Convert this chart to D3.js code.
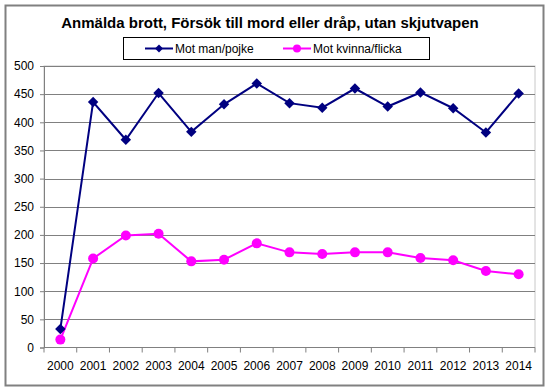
<!DOCTYPE html>
<html>
<head>
<meta charset="utf-8">
<script src="https://cdn.jsdelivr.net/npm/d3@7"></script>
<style>
  body { margin: 0; background: #fff; }
  text { font-family: "Liberation Sans", Arial, sans-serif; }
</style>
</head>
<body>
<div class="chart"></div>
<script>
var years = ["2000","2001","2002","2003","2004","2005","2006","2007","2008","2009","2010","2011","2012","2013","2014"];
var motMan = [33, 436, 369, 452, 383, 432, 469, 434, 426, 460, 428, 453, 425, 382, 451];
var motKvinna = [14, 158, 199, 202, 153, 156, 185, 169, 166, 169, 169, 159, 155, 136, 130];
var yTicks = [0, 50, 100, 150, 200, 250, 300, 350, 400, 450, 500];

var width = 550, height = 391;
var plot = {left: 44, right: 535, top: 66, bottom: 347.5};

var svg = d3.select(".chart")
  .append("svg")
  .attr("width", width)
  .attr("height", height);

// outer frame
svg.append("rect")
  .attr("x", 5.5).attr("y", 5.5)
  .attr("width", 538).attr("height", 380)
  .attr("fill", "#fff")
  .attr("stroke", "#808080")
  .attr("stroke-width", 2);

svg.append("text")
  .attr("x", 270).attr("y", 28)
  .attr("text-anchor", "middle")
  .style("font-size", "15px")
  .style("font-weight", "bold")
  .text("Anmälda brott, Försök till mord eller dråp, utan skjutvapen");

var x = d3.scaleBand().domain(years).range([plot.left, plot.right]);
var y = d3.scaleLinear().domain([0, 500]).range([plot.bottom, plot.top]);

// plot area border
svg.append("rect")
  .attr("x", plot.left).attr("y", plot.top)
  .attr("width", plot.right - plot.left)
  .attr("height", plot.bottom - plot.top)
  .attr("fill", "none")
  .attr("stroke", "#c8c8c8");

// gridlines
svg.append("g").selectAll("line")
  .data(yTicks.filter(function(d){ return d > 0; }))
  .enter().append("line")
  .attr("x1", plot.left).attr("x2", plot.right)
  .attr("y1", function(d){ return Math.round(y(d)) + 0.5; })
  .attr("y2", function(d){ return Math.round(y(d)) + 0.5; })
  .attr("stroke", "#808080");

// y axis
var yAxis = svg.append("g")
  .attr("transform", "translate(" + plot.left + ",0)")
  .call(d3.axisLeft(y).tickValues(yTicks).tickSize(4).tickPadding(6));
yAxis.select(".domain").attr("stroke", "#808080");
yAxis.selectAll(".tick line").attr("stroke", "#808080");
yAxis.selectAll("text").style("font-size", "12px").attr("fill", "#000");

// x axis with ticks between categories
var xAxisG = svg.append("g")
  .attr("transform", "translate(0," + plot.bottom + ")");
xAxisG.append("line")
  .attr("x1", plot.left).attr("x2", plot.right)
  .attr("stroke", "#808080");
xAxisG.selectAll(".xt")
  .data(years.concat(["end"]))
  .enter().append("line")
  .attr("x1", function(d, i){ return plot.left + i * x.bandwidth(); })
  .attr("x2", function(d, i){ return plot.left + i * x.bandwidth(); })
  .attr("y1", 0).attr("y2", 5)
  .attr("stroke", "#808080");
xAxisG.selectAll("text")
  .data(years)
  .enter().append("text")
  .attr("x", function(d){ return x(d) + x.bandwidth() / 2; })
  .attr("y", 22)
  .attr("text-anchor", "middle")
  .style("font-size", "12px")
  .text(function(d){ return d; });

var line = function(vals) {
  return d3.line()
    .x(function(d, i){ return x(years[i]) + x.bandwidth() / 2; })
    .y(function(d){ return y(d); })(vals);
};

svg.append("path")
  .attr("d", line(motMan))
  .attr("fill", "none")
  .attr("stroke", "#000080")
  .attr("stroke-width", 2);

svg.append("path")
  .attr("d", line(motKvinna))
  .attr("fill", "none")
  .attr("stroke", "#ff00ff")
  .attr("stroke-width", 2);

var diamond = d3.symbol().type(d3.symbolDiamond2).size(70);

svg.append("g").selectAll("path")
  .data(motMan)
  .enter().append("path")
  .attr("d", diamond)
  .attr("transform", function(d, i){
    return "translate(" + (x(years[i]) + x.bandwidth() / 2) + "," + y(d) + ")";
  })
  .attr("fill", "#000080");

svg.append("g").selectAll("circle")
  .data(motKvinna)
  .enter().append("circle")
  .attr("cx", function(d, i){ return x(years[i]) + x.bandwidth() / 2; })
  .attr("cy", function(d){ return y(d); })
  .attr("r", 5)
  .attr("fill", "#ff00ff");

// legend
var legend = svg.append("g");
legend.append("rect")
  .attr("x", 123.5).attr("y", 37.5)
  .attr("width", 306).attr("height", 22)
  .attr("fill", "#fff")
  .attr("stroke", "#000");

var items = [
  {name: "Mot man/pojke", color: "#000080", x: 145},
  {name: "Mot kvinna/flicka", color: "#ff00ff", x: 283}
];
items.forEach(function(it) {
  legend.append("line")
    .attr("x1", it.x).attr("x2", it.x + 28)
    .attr("y1", 48.5).attr("y2", 48.5)
    .attr("stroke", it.color).attr("stroke-width", 2);
  if (it.color === "#000080") {
    legend.append("path")
      .attr("d", d3.symbol().type(d3.symbolDiamond2).size(40)())
      .attr("transform", "translate(" + (it.x + 14) + ",48.5)")
      .attr("fill", it.color);
  } else {
    legend.append("circle")
      .attr("cx", it.x + 14).attr("cy", 48.5).attr("r", 4)
      .attr("fill", it.color);
  }
  legend.append("text")
    .attr("x", it.x + 30).attr("y", 52.5)
    .style("font-size", "12px")
    .text(it.name);
});
</script>
</body>
</html>
